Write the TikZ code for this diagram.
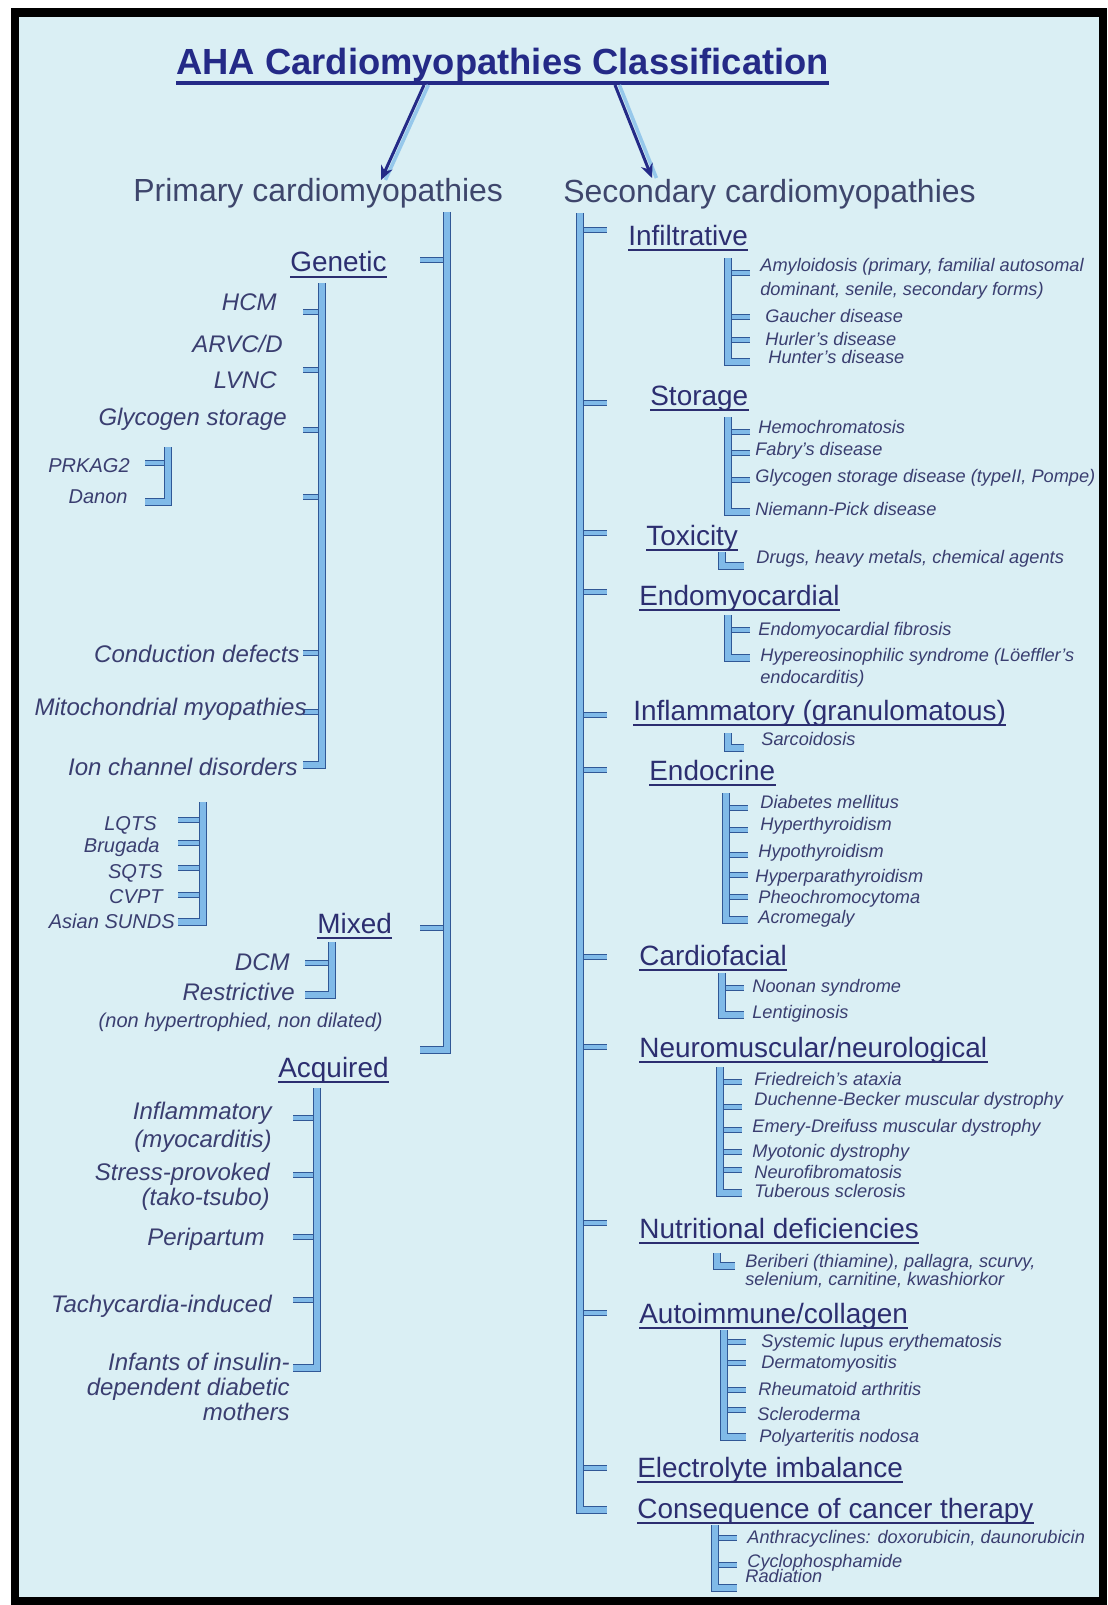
\documentclass[tikz,border=0pt]{standalone}
\usepackage{fontspec}
\setmainfont{Liberation Sans}
\usetikzlibrary{arrows.meta}
\definecolor{bg}{RGB}{218,239,244}
\definecolor{navy}{RGB}{36,42,135}
\definecolor{head}{RGB}{44,46,112}
\definecolor{item}{RGB}{58,62,112}
\definecolor{plain}{RGB}{62,70,108}
\definecolor{barlite}{RGB}{128,186,232}
\definecolor{bardark}{RGB}{48,88,150}
\definecolor{shade}{RGB}{150,200,235}
\tikzset{
  bar/.style={draw=bardark, line width=0.55pt, double=barlite, double distance=3.1pt, line join=miter},
  tick/.style={draw=bardark, line width=0.55pt, double=barlite, double distance=1.8pt},
  ttl/.style={inner sep=0pt, anchor=base west, text=navy, font={\fontsize{20.7}{24}\selectfont\bfseries}},
  cls/.style={inner sep=0pt, anchor=base west, text=plain, font={\fontsize{18.2}{22}\selectfont}},
  grp/.style={inner sep=0pt, anchor=base west, text=head, font={\fontsize{15.9}{19}\selectfont}},
  itm/.style={inner sep=0pt, anchor=base east, align=right, text=item, font={\fontsize{13.66}{15.4}\selectfont\itshape}},
  sml/.style={inner sep=0pt, anchor=base east, text=item, font={\fontsize{11.4}{13}\selectfont\itshape}},
  sub/.style={inner sep=0pt, anchor=base west, align=left, text=item, font={\fontsize{10.36}{13.1}\selectfont\itshape}},
  uln/.style={draw=head, line width=1.3pt},
  arr/.style={draw=navy, line width=1.7pt, -{Stealth[length=8pt,width=7pt]}},
  arrshade/.style={draw=shade, line width=2pt}
}
% x: bar position, top, bottom, tick length, ticks
\newcommand{\drawbracket}[5]{
  \foreach \t in {#5}{
    \draw[tick] (#1,\t)--++(#4,0);
  }
  \draw[bar] (#1,#2)--(#1,#3)--++(#4,0);
}
\newcommand{\ulnode}[1]{\draw[uln] ([yshift=-2.9pt]#1.base west)--([yshift=-2.9pt]#1.base east);}

\begin{document}
\begin{tikzpicture}[x=0.02cm, y=-0.02cm]
\useasboundingbox (0,0) rectangle (1107,1605);
\fill[white] (0,0) rectangle (1107,1605);
\draw[line width=5.1pt, fill=bg] (15,12.5) rectangle (1103,1601);

\node[ttl] (title) at (176,75) {AHA Cardiomyopathies Classification};
\draw[navy, line width=1.8pt] ([yshift=-4.6pt]title.base west)--([yshift=-4.6pt]title.base east);
\node[cls] (prim) at (133,202) {Primary cardiomyopathies};
\node[cls] (sec) at (563,203) {Secondary cardiomyopathies};
\coordinate (t1) at (424,85); \coordinate (pa) at (381,180);
\coordinate (t2) at (615,85); \coordinate (sa) at (652,178);
\draw[arrshade] ([xshift=2.5pt]t1)--([xshift=2.5pt]pa);
\draw[arrshade] ([xshift=2.5pt]t2)--([xshift=2.5pt]sa);
\draw[arr] (t1)--(pa);
\draw[arr] (t2)--(sa);

% primary side
\drawbracket{447}{212}{1050}{-27}{260,928}
\drawbracket{322}{283}{765}{-19}{312,370,430,497,653,712}
\drawbracket{168}{447}{502}{-23}{463}
\drawbracket{203}{802}{922}{-25}{820,843,868,895}
\drawbracket{332}{942}{995}{-27}{963}
\drawbracket{317}{1088}{1368}{-24}{1118,1175,1237,1300}

\node[grp] (genetic) at (290,272) {Genetic}; \ulnode{genetic}
\node[itm] (hcm) at (277,310) {HCM};
\node[itm] (arvc) at (283,352) {ARVC/D};
\node[itm] (lvnc) at (277,388) {LVNC};
\node[itm] (glyco) at (287,425) {Glycogen storage};
\node[sml] (prkag) at (130,472) {PRKAG2};
\node[sml] (danon) at (128,503) {Danon};
\node[itm] (conduct) at (300,662) {Conduction defects};
\node[itm] (mito) at (307,715) {Mitochondrial myopathies};
\node[itm] (ionch) at (298,775) {Ion channel disorders};
\node[sml] (lqts) at (157,830) {LQTS};
\node[sml] (brugada) at (160,852) {Brugada};
\node[sml] (sqts) at (163,878) {SQTS};
\node[sml] (cvpt) at (163,903) {CVPT};
\node[sml] (sunds) at (175,928) {Asian SUNDS};
\node[grp] (mixed) at (317,933) {Mixed}; \ulnode{mixed}
\node[itm] (dcm) at (290,970) {DCM};
\node[itm] (restr) at (295,1000) {Restrictive};
\node[sml] (nonhyp) at (383,1027) {(non hypertrophied, non dilated)};
\node[grp] (acquired) at (278,1077) {Acquired}; \ulnode{acquired}
\node[itm] (infl) at (272,1147) {Inflammatory\\(myocarditis)};
\node[itm, font={\fontsize{13.66}{12.5}\selectfont\itshape}] (stress) at (270,1205) {Stress-provoked\\(tako-tsubo)};
\node[itm] (peri) at (265,1245) {Peripartum};
\node[itm] (tachy) at (272,1312) {Tachycardia-induced};
\node[itm, font={\fontsize{13.66}{14.2}\selectfont\itshape}] (infants) at (290,1420) {Infants of insulin-\\dependent diabetic\\mothers};

% secondary side
\drawbracket{580}{213}{1510}{27}{230,403,533,592,715,770,957,1047,1223,1313,1468}
\drawbracket{728}{258}{362}{22}{273,317,340}
\drawbracket{728}{417}{512}{22}{432,453,480}
\drawbracket{722}{552}{566}{22}{566}
\drawbracket{728}{615}{658}{22}{630}
\drawbracket{728}{733}{748}{16}{748}
\drawbracket{726}{793}{920}{22}{808,830,855,875,897}
\drawbracket{722}{973}{1015}{22}{988}
\drawbracket{720}{1067}{1193}{22}{1082,1107,1130,1152,1170}
\drawbracket{717}{1253}{1266}{18}{1266}
\drawbracket{724}{1330}{1437}{22}{1342,1363,1390,1410}
\drawbracket{715}{1525}{1588}{22}{1538,1565}

\node[grp] (infil) at (628,245) {Infiltrative}; \ulnode{infil}
\node[sub] (amyl) at (760,295) {Amyloidosis (primary, familial autosomal\\dominant, senile, secondary forms)};
\node[sub] (gaucher) at (765,322) {Gaucher disease};
\node[sub] (hurler) at (765,345) {Hurler's disease};
\node[sub] (hunter) at (768,363) {Hunter's disease};
\node[grp] (storage) at (650,405) {Storage}; \ulnode{storage}
\node[sub] (hemo) at (758,433) {Hemochromatosis};
\node[sub] (fabry) at (755,455) {Fabry's disease};
\node[sub] (glysd) at (755,482) {Glycogen storage disease (typeII, Pompe)};
\node[sub] (niemann) at (755,515) {Niemann-Pick disease};
\node[grp] (toxic) at (646,545) {Toxicity}; \ulnode{toxic}
\node[sub] (drugs) at (756,563) {Drugs, heavy metals, chemical agents};
\node[grp] (endomyo) at (639,605) {Endomyocardial}; \ulnode{endomyo}
\node[sub] (emf) at (758,635) {Endomyocardial fibrosis};
\node[sub, font={\fontsize{10.36}{12}\selectfont\itshape}] (hes) at (760,683) {Hypereosinophilic syndrome (Löeffler's\\endocarditis)};
\node[grp] (granul) at (633,720) {Inflammatory (granulomatous)}; \ulnode{granul}
\node[sub] (sarc) at (761,745) {Sarcoidosis};
\node[grp] (endocr) at (649,780) {Endocrine}; \ulnode{endocr}
\node[sub] (diab) at (760,808) {Diabetes mellitus};
\node[sub] (hyper) at (760,830) {Hyperthyroidism};
\node[sub] (hypo) at (758,857) {Hypothyroidism};
\node[sub] (hpara) at (755,882) {Hyperparathyroidism};
\node[sub] (pheo) at (758,903) {Pheochromocytoma};
\node[sub] (acro) at (758,923) {Acromegaly};
\node[grp] (cardiof) at (639,965) {Cardiofacial}; \ulnode{cardiof}
\node[sub] (noonan) at (752,992) {Noonan syndrome};
\node[sub] (lentig) at (752,1018) {Lentiginosis};
\node[grp] (neuro) at (639,1057) {Neuromuscular/neurological}; \ulnode{neuro}
\node[sub] (fried) at (754,1085) {Friedreich's ataxia};
\node[sub] (dmd) at (754,1105) {Duchenne-Becker muscular dystrophy};
\node[sub] (edmd) at (752,1132) {Emery-Dreifuss muscular dystrophy};
\node[sub] (myot) at (752,1157) {Myotonic dystrophy};
\node[sub] (nf) at (754,1178) {Neurofibromatosis};
\node[sub] (tsc) at (754,1197) {Tuberous sclerosis};
\node[grp] (nutri) at (639,1238) {Nutritional deficiencies}; \ulnode{nutri}
\node[sub, font={\fontsize{10.36}{9.8}\selectfont\itshape}] (beri) at (745,1285) {Beriberi (thiamine), pallagra, scurvy,\\selenium, carnitine, kwashiorkor};
\node[grp] (autoimm) at (639,1323) {Autoimmune/collagen}; \ulnode{autoimm}
\node[sub] (sle) at (761,1347) {Systemic lupus erythematosis};
\node[sub] (derm) at (761,1368) {Dermatomyositis};
\node[sub] (ra) at (758,1395) {Rheumatoid arthritis};
\node[sub] (sclero) at (757,1420) {Scleroderma};
\node[sub] (pan) at (759,1442) {Polyarteritis nodosa};
\node[grp] (electro) at (637,1477) {Electrolyte imbalance}; \ulnode{electro}
\node[grp] (cancer) at (637,1518) {Consequence of cancer therapy}; \ulnode{cancer}
\node[sub] (anthra) at (747,1543) {Anthracyclines: doxorubicin, daunorubicin};
\node[sub] (cyclo) at (747,1567) {Cyclophosphamide};
\node[sub] (radia) at (745,1582) {Radiation};
\end{tikzpicture}
\end{document}
